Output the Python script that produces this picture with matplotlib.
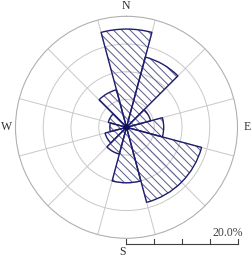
import numpy as np
import matplotlib
matplotlib.use("Agg")
import matplotlib.pyplot as plt

# Data: wind-rose sectors (direction centre in degrees, width in degrees, frequency %)
directions = [0, 30, 60, 90, 135, 180, 210, 240, 270, 300, 330]
widths = [30, 30, 30, 30, 60, 30, 30, 30, 30, 30, 30]
frequencies = [17.7, 13.1, 4.5, 6.7, 14.0, 10.0, 5.0, 4.0, 3.0, 3.4, 7.0]
ring_values = [5, 10, 15, 20]
compass_labels = ["N", "E", "S", "W"]
scale_label = "20.0%"

W, H = 253, 258
fig = plt.figure(figsize=(W / 100, H / 100), dpi=100)
fig.patch.set_facecolor("white")

cx, cy, R = 126.5, 127.3, 111.0
rect = [(cx - R) / W, (H - cy - R) / H, 2 * R / W, 2 * R / H]
ax = fig.add_axes(rect, projection="polar")
ax.set_theta_zero_location("N")
ax.set_theta_direction(-1)

plt.rcParams["hatch.linewidth"] = 0.7
theta = np.deg2rad(directions)
wid = np.deg2rad(widths)
ax.bar(theta, frequencies, width=wid, bottom=0, facecolor="none",
       edgecolor="#5a5a8c", linewidth=0, hatch="\\\\\\\\", zorder=3)
ax.bar(theta, frequencies, width=wid, bottom=0, facecolor="none",
       edgecolor="#1e1e6e", linewidth=1.0, zorder=4)
ax.plot([0], [0], "o", color="#10105a", ms=3.5, zorder=5)

ax.set_ylim(0, ring_values[-1])
ax.set_yticks(ring_values[:-1])
ax.set_yticklabels([])
ax.set_xticks(np.deg2rad(np.arange(15, 360, 30)))
ax.set_xticklabels([])
ax.grid(True, color="#c8c8c8", linewidth=0.7)
ax.spines["polar"].set_color("#b0b0b0")
ax.spines["polar"].set_linewidth(0.8)
ax.set_facecolor("white")

fkw = dict(family="Liberation Serif", fontsize=8.5, color="#303030", va="center")
fig.text(126 / W, 1 - 6 / H, compass_labels[0], ha="center", **fkw)
fig.text(251 / W, 1 - 127 / H, compass_labels[1], ha="right", **fkw)
fig.text(123 / W, 1 - 252 / H, compass_labels[2], ha="center", **fkw)
fig.text(1 / W, 1 - 127 / H, compass_labels[3], ha="left", **fkw)

# Scale bar in an overlay cartesian axes sharing the polar box
ov = fig.add_axes(rect)
ov.set_xlim(-ring_values[-1], ring_values[-1])
ov.set_ylim(-ring_values[-1], ring_values[-1])
ov.axis("off")
ybar = -(244 - cy) / R * ring_values[-1]
tick_h = 5 / R * ring_values[-1]
ov.plot([0, ring_values[-1]], [ybar, ybar], color="#404040", lw=0.8, clip_on=False)
for v in [0] + ring_values:
    ov.plot([v, v], [ybar, ybar + tick_h], color="#404040", lw=0.8, clip_on=False)
fig.text(243 / W, 1 - 233 / H, scale_label, family="Liberation Serif",
         fontsize=8.5, color="#404040", ha="right", va="center")

fig.savefig("out.png", dpi=100)
